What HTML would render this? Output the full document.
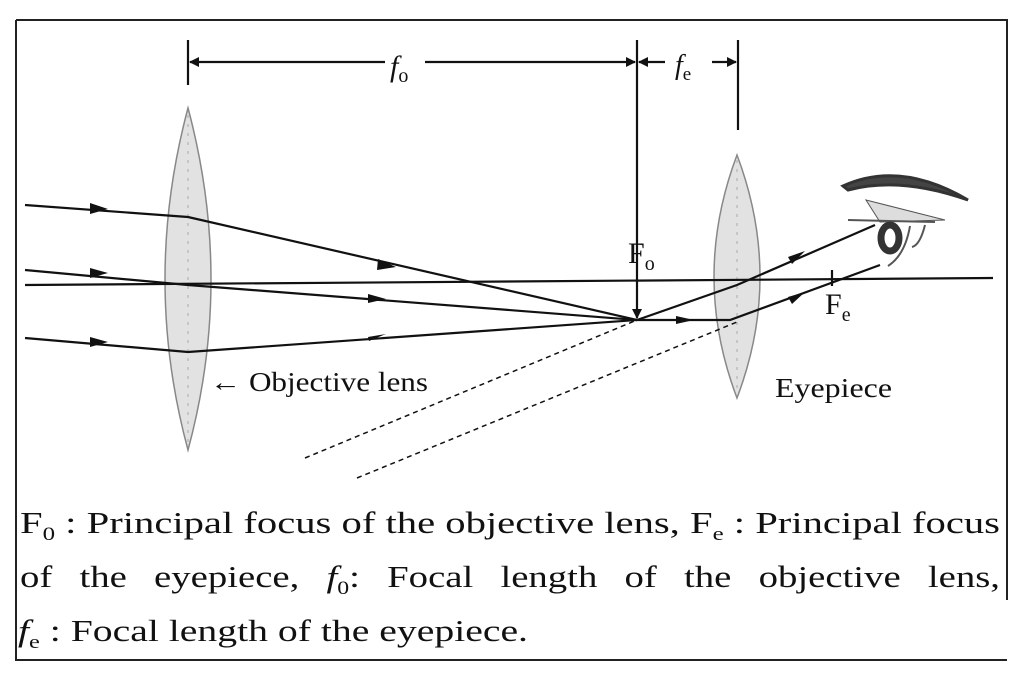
<!DOCTYPE html><html><head><style>
body{margin:0;background:#fff;width:1024px;height:673px;overflow:hidden}
svg{position:absolute;left:0;top:0}
.t{font-family:"Liberation Serif",serif;fill:#111}
</style></head><body>
<svg width="1024" height="673" viewBox="0 0 1024 673">
<defs><marker id="a" viewBox="0 0 10 10" refX="9" refY="5" markerWidth="14" markerHeight="10" orient="auto" markerUnits="userSpaceOnUse"><path d="M0,0L10,5L0,10z" fill="#111"/></marker></defs>
<g stroke="#222" stroke-width="2" fill="none">
<path d="M16,20H1007V600M16,20V660H1007"/>
</g>
<path d="M188,108Q234,280 188,450Q142,280 188,108z" fill="#e2e2e2" stroke="#888" stroke-width="1.5"/>
<path d="M737,155Q783,277 737,398Q691,277 737,155z" fill="#e2e2e2" stroke="#888" stroke-width="1.5"/>
<line x1="188" y1="115" x2="188" y2="445" stroke="#aaa" stroke-dasharray="3,6"/>
<line x1="737" y1="160" x2="737" y2="392" stroke="#aaa" stroke-dasharray="3,6"/>
<g stroke="#111" stroke-width="2.2" fill="none">
<line x1="188" y1="40" x2="188" y2="85"/>
<line x1="738" y1="40" x2="738" y2="130"/>
<line x1="637" y1="40" x2="637" y2="318" marker-end="url(#a)"/>
<line x1="385" y1="62" x2="190" y2="62" marker-end="url(#a)"/>
<line x1="425" y1="62" x2="635" y2="62" marker-end="url(#a)"/>
<line x1="665" y1="62" x2="639" y2="62" marker-end="url(#a)"/>
<line x1="712" y1="62" x2="736" y2="62" marker-end="url(#a)"/>
<line x1="25" y1="285" x2="993" y2="278"/>
<path d="M25,205L188,217L637,320L737,285L875,225"/>
<path d="M25,270L188,285L637,320"/>
<path d="M25,338L188,352L637,320L730,320L880,265"/>
<line x1="832" y1="270" x2="832" y2="286"/>
</g>
<g stroke="#111" stroke-width="1.5" stroke-dasharray="5,4">
<line x1="305" y1="458" x2="637" y2="320"/><line x1="357" y1="478" x2="737" y2="322"/>
</g>
<g fill="#111">
<path d="M90,203l18,6l-18,5z"/><path d="M90,268l18,5l-18,5z"/><path d="M90,337l18,5l-18,5z"/>
<path d="M378,259l18,8l-19,3z"/><path d="M368,294l18,5l-18,4z"/><path d="M368,337l18,-3l-17,7z"/>
<path d="M676,316l18,4l-18,4z"/><path d="M788,257l17,-6l-13,13z"/><path d="M788,297l17,-5l-13,12z"/>
</g>
<path d="M843,186Q900,160 968,200Q900,176 848,190z" fill="#444" stroke="#333" stroke-width="3"/>
<path d="M866,200L945,220L880,222z" fill="#ddd" stroke="#555"/>
<path d="M848,220L935,222" stroke="#555" stroke-width="2"/>
<ellipse cx="890" cy="238" rx="9" ry="13" fill="none" stroke="#333" stroke-width="7"/>
<path d="M910,226Q905,255 888,266M925,225Q920,245 912,247" stroke="#555" fill="none" stroke-width="2"/>
<g class="t">
<text x="390" y="76" font-size="30" font-style="italic">f<tspan font-size="20" font-style="normal" dy="6">o</tspan></text>
<text x="675" y="74" font-size="28" font-style="italic">f<tspan font-size="19" font-style="normal" dy="6">e</tspan></text>
<text x="628" y="263" font-size="30">F<tspan font-size="20" dy="7">o</tspan></text>
<text x="825" y="314" font-size="30">F<tspan font-size="20" dy="7">e</tspan></text>
<text x="210" y="391" font-size="27" textLength="218" lengthAdjust="spacingAndGlyphs">← Objective lens</text>
<text x="775" y="397" font-size="27" textLength="117" lengthAdjust="spacingAndGlyphs">Eyepiece</text>
<text x="20" y="533" font-size="31" textLength="980" lengthAdjust="spacingAndGlyphs">F<tspan font-size="19" dy="7">0</tspan><tspan dy="-7"> : Principal focus of the objective lens, F</tspan><tspan font-size="19" dy="7">e</tspan><tspan dy="-7"> : Principal focus</tspan></text>
<text x="20" y="587" font-size="31" textLength="980" lengthAdjust="spacingAndGlyphs" word-spacing="14">of the eyepiece, <tspan font-style="italic">f</tspan><tspan font-size="19" dy="7">0</tspan><tspan dy="-7">: Focal length of the objective lens,</tspan></text>
<text x="18" y="641" font-size="31" textLength="510" lengthAdjust="spacingAndGlyphs"><tspan font-style="italic">f</tspan><tspan font-size="19" dy="7">e</tspan><tspan dy="-7"> : Focal length of the eyepiece.</tspan></text>
</g>
</svg>
</body></html>
